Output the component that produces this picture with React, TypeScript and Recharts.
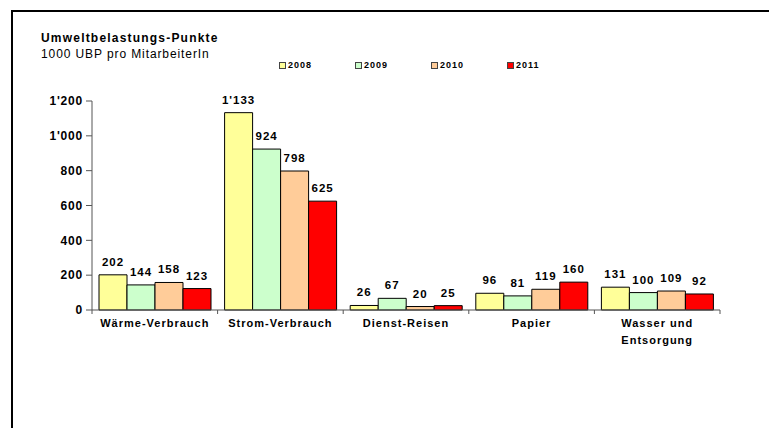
import React from 'react';
import { BarChart, Bar, XAxis, YAxis, LabelList } from 'recharts';

const categories = ['Wärme-Verbrauch', 'Strom-Verbrauch', 'Dienst-Reisen', 'Papier', 'Wasser und\nEntsorgung'];
const years = ['2008', '2009', '2010', '2011'];
const v2008 = [202, 1133, 26, 96, 131];
const v2009 = [144, 924, 67, 81, 100];
const v2010 = [158, 798, 20, 119, 109];
const v2011 = [123, 625, 25, 160, 92];
const yTicks = [0, 200, 400, 600, 800, 1000, 1200];
const colors = ['#FFFF99', '#CCFFCC', '#FFCC99', '#FF0000'];

const data = categories.map((c, i) => ({
  cat: c,
  y2008: v2008[i],
  y2009: v2009[i],
  y2010: v2010[i],
  y2011: v2011[i],
}));

const FONT = '"Liberation Sans", Arial, sans-serif';
const PLOT_W = 628;
const BAND = PLOT_W / categories.length;

const fmt = (v: number) =>
  v >= 1000 ? `${Math.floor(v / 1000)}'${String(v % 1000).padStart(3, '0')}` : String(v);

function CatTick(props: any) {
  const { x, y, payload, index } = props;
  const lines = String(payload.value).split('\n');
  return (
    <g>
      <line x1={x - BAND / 2} x2={x - BAND / 2} y1={y - 8} y2={y - 4} stroke="#555" />
      {index === categories.length - 1 && (
        <line x1={x + BAND / 2} x2={x + BAND / 2} y1={y - 8} y2={y - 4} stroke="#555" />
      )}
      <text x={x} y={y + 9} textAnchor="middle" fontFamily={FONT} fontSize={11} fontWeight="bold" fill="#000" style={{ letterSpacing: '1px' }}>
        {lines.map((l, k) => (
          <tspan key={k} x={x} dy={k === 0 ? 0 : 17}>{l}</tspan>
        ))}
      </text>
    </g>
  );
}

function LegendBox() {
  return (
    <div style={{ position: 'absolute', top: 60, left: 279, display: 'flex', fontFamily: FONT }}>
      {years.map((yr, i) => (
        <div key={yr} style={{ width: 76, display: 'flex', alignItems: 'center' }}>
          <span style={{ width: 5, height: 5, border: '1px solid #444', background: colors[i], marginRight: 2 }} />
          <span style={{ fontSize: 9, fontWeight: 'bold', letterSpacing: '1px', color: '#000' }}>{yr}</span>
        </div>
      ))}
    </div>
  );
}

export default function App() {
  const keys = ['y2008', 'y2009', 'y2010', 'y2011'];
  return (
    <div style={{ position: 'absolute', left: 0, top: 0, width: 769, height: 428, background: '#fff', fontFamily: FONT }}>
      <div style={{ position: 'absolute', left: 11, top: 10, right: 0, bottom: 0, borderTop: '2px solid #000', borderLeft: '2px solid #000' }} />
      <div style={{ position: 'absolute', left: 41, top: 31, fontSize: 12, fontWeight: 'bold', color: '#000', letterSpacing: '1.2px' }}>Umweltbelastungs-Punkte</div>
      <div style={{ position: 'absolute', left: 41, top: 47, fontSize: 12, color: '#000', letterSpacing: '0.9px' }}>1000 UBP pro MitarbeiterIn</div>
      <div style={{ position: 'absolute', left: 0, top: 0 }}>
        <BarChart width={769} height={428} data={data} margin={{ top: 101, right: 49, bottom: 78, left: 42 }} barCategoryGap={7} barGap={0}>
          <YAxis
            width={50}
            domain={[0, 1200]}
            ticks={yTicks}
            tickFormatter={fmt}
            axisLine={{ stroke: '#555' }}
            tickLine={{ stroke: '#555' }}
            tickSize={6}
            tickMargin={3}
            tick={{ fontFamily: FONT, fontSize: 12, fontWeight: 'bold', fill: '#000', style: { letterSpacing: '0.8px' } }}
          />
          <XAxis
            dataKey="cat"
            axisLine={{ stroke: '#555' }}
            tickLine={false}
            tick={<CatTick />}
            interval={0}
            height={40}
          />
          {keys.map((k, i) => (
            <Bar key={k} dataKey={k} name={years[i]} fill={colors[i]} stroke="#000" strokeWidth={1} isAnimationActive={false}>
              <LabelList dataKey={k} position="top" offset={9} formatter={(v: any) => fmt(Number(v))} style={{ fontFamily: FONT, fontSize: 11.5, fontWeight: 'bold', fill: '#000', letterSpacing: '1px' }} />
            </Bar>
          ))}
        </BarChart>
      </div>
      <LegendBox />
    </div>
  );
}
